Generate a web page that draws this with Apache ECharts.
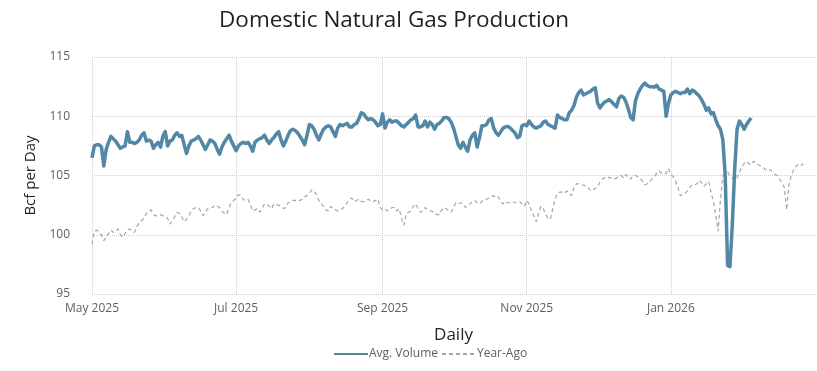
<!DOCTYPE html>
<html>
<head>
<meta charset="utf-8">
<script src="https://cdn.jsdelivr.net/npm/echarts@6/dist/echarts.min.js"></script>
<style>
html,body{margin:0;padding:0;background:#fff;}
#chart{width:817px;height:371px;}
</style>
</head>
<body>
<div id="chart"></div>
<script>
// ---- Data ----
const startDate = '2025-05-01';
const axisDays = 307; // May 1 2025 .. Mar 3 2026
const tickDates = ['2025-05-01','2025-07-01','2025-09-01','2025-11-01','2026-01-01'];
const yTicks = [95, 100, 105, 110, 115];

const avgVolume = [
106.5,107.5,107.6,107.6,107.4,105.8,107.2,107.8,108.3,108.1,
107.9,107.6,107.3,107.4,107.5,108.7,107.8,107.8,107.7,107.8,
108.0,108.4,108.6,107.9,108.0,107.9,107.3,107.6,107.8,107.4,
108.3,108.7,107.5,107.9,108.0,108.4,108.6,108.3,108.4,107.6,
106.85,107.5,107.9,108.0,108.1,108.3,108.0,107.6,107.2,107.6,
108.0,107.9,107.7,107.2,106.8,107.4,107.8,108.1,108.4,107.9,
107.5,107.1,107.5,107.7,107.8,107.7,107.8,107.5,107.05,107.8,
108.0,108.1,108.2,108.4,108.0,107.7,108.0,108.2,108.5,108.7,
108.0,107.5,107.9,108.4,108.8,108.9,108.8,108.6,108.3,108.0,
107.6,108.4,109.3,109.2,108.9,108.4,108.0,108.5,108.9,109.1,
109.2,109.1,108.7,108.3,109.0,109.3,109.2,109.3,109.4,109.1,
109.1,109.3,109.4,109.8,110.3,110.2,109.9,109.7,109.8,109.7,
109.5,109.2,109.3,110.2,109.0,109.5,109.7,109.5,109.6,109.6,
109.4,109.2,109.1,109.3,109.5,109.7,109.8,110.1,109.1,109.1,
109.2,109.6,109.1,109.5,109.3,108.9,109.3,109.4,109.6,109.9,
109.9,109.8,109.5,109.0,108.3,107.6,107.3,107.8,107.4,107.05,
108.0,108.4,108.6,107.4,108.2,109.2,109.2,109.3,109.7,109.8,
109.0,108.6,108.4,108.7,109.0,109.1,109.15,109.0,108.8,108.6,
108.2,108.3,109.2,109.3,109.2,109.6,109.3,109.1,109.0,109.1,
109.2,109.5,109.6,109.3,109.2,109.1,109.0,110.1,109.9,109.8,
109.7,109.7,110.3,110.5,110.9,111.6,112.0,112.2,111.8,111.9,
112.0,112.1,112.3,112.4,111.1,110.7,111.0,111.2,111.3,111.4,
111.2,111.0,110.8,111.5,111.7,111.6,111.2,110.6,109.9,109.7,
111.3,111.9,112.3,112.6,112.8,112.6,112.5,112.5,112.45,112.6,
112.3,112.2,112.1,110.0,111.1,111.8,112.0,112.1,112.0,111.9,
112.0,112.0,112.3,111.9,112.2,112.1,111.9,111.7,111.4,111.0,
110.5,110.7,110.2,110.3,109.7,109.2,108.9,108.0,105.0,97.4,
97.3,100.8,105.5,108.9,109.6,109.3,108.9,109.3,109.6,109.85
];

const yearAgo = [
99.2,100.3,100.4,100.2,100.0,99.5,99.8,100.1,100.4,100.2,
100.3,100.5,100.0,99.8,100.1,100.4,100.5,100.3,100.2,100.7,
101.0,101.2,101.4,101.8,102.0,102.1,101.7,101.6,101.6,101.7,
101.6,101.5,101.4,100.9,101.2,101.5,101.9,101.8,101.5,101.1,
101.3,101.6,102.0,102.2,102.3,102.3,102.0,101.6,101.9,102.2,
102.3,102.3,102.5,102.4,102.3,102.0,101.8,101.7,102.3,102.7,
102.9,103.1,103.4,103.3,103.0,102.9,103.0,102.6,102.0,102.1,
102.2,101.9,102.2,102.6,102.6,102.4,102.2,102.6,102.5,102.5,
102.4,102.2,102.3,102.7,102.8,102.9,102.9,102.8,102.9,103.0,
103.2,103.3,103.5,103.8,103.7,103.4,102.9,102.6,102.4,102.1,
102.0,102.4,102.2,102.1,102.0,102.1,102.2,102.4,102.7,103.0,
103.1,102.8,102.9,103.0,102.8,102.8,102.9,103.0,102.8,102.8,
102.9,103.0,102.3,102.1,102.2,102.0,102.1,102.3,102.3,102.0,
102.2,101.4,100.8,101.8,101.9,102.0,102.4,102.6,102.2,101.9,
102.0,102.3,102.1,102.0,102.0,101.8,101.7,101.7,102.1,102.3,
102.2,102.0,101.9,102.3,102.7,102.6,102.7,102.6,102.3,102.5,
102.6,102.8,102.9,102.7,102.6,102.8,103.0,103.0,103.1,103.2,
103.3,103.1,103.2,102.8,102.6,102.8,102.7,102.7,102.8,102.7,
102.7,102.8,102.6,102.4,102.9,102.6,102.0,101.6,101.1,101.8,
102.4,102.2,101.7,101.4,101.3,102.2,103.0,103.5,103.6,103.6,
103.5,103.7,103.5,103.3,104.0,104.3,104.3,104.2,104.2,104.1,
104.0,103.7,103.8,103.9,104.0,104.5,104.7,104.8,104.9,104.8,
104.8,104.7,104.8,104.9,105.0,104.8,105.1,104.8,104.7,105.0,
105.0,104.9,104.8,104.5,104.2,104.3,104.5,104.7,104.9,105.2,
105.4,105.2,105.1,105.2,105.6,105.1,104.9,104.5,104.0,103.3,
103.4,103.5,103.7,104.0,104.2,104.2,104.3,104.6,104.4,104.1,
104.3,104.5,103.6,102.8,101.7,100.3,103.0,105.0,105.2,105.3,
105.0,104.8,104.6,104.8,105.3,105.7,106.0,106.2,106.0,105.9,
106.2,106.1,105.9,105.8,105.7,105.5,105.4,105.5,105.3,105.1,
105.0,104.7,104.4,104.0,102.1,104.3,105.0,105.5,105.8,105.9,
105.8,106.0
];

// ---- Category dates ----
function pad(n){return n<10?'0'+n:''+n;}
const dates = [];
(function(){
  const d0 = new Date(startDate + 'T00:00:00Z');
  for (let i = 0; i < axisDays; i++) {
    const d = new Date(d0.getTime() + i*86400000);
    dates.push(d.getUTCFullYear()+'-'+pad(d.getUTCMonth()+1)+'-'+pad(d.getUTCDate()));
  }
})();
const monthNames = ['Jan','Feb','Mar','Apr','May','Jun','Jul','Aug','Sep','Oct','Nov','Dec'];
function fmt(v){const p=v.split('-');return monthNames[+p[1]-1]+' '+p[0];}
const isTick = (idx, v) => tickDates.indexOf(v) >= 0;

const FONT = "'Open Sans', 'Noto Sans', sans-serif";
const chart = echarts.init(document.getElementById('chart'), null, {renderer:'canvas'});
chart.setOption({
  animation: false,
  backgroundColor: '#ffffff',
  title: {
    text: 'Domestic Natural Gas Production',
    left: 389, top: 4, textAlign: 'center',
    textStyle: {fontFamily: FONT, fontSize: 22.5, fontWeight: 'normal', color: '#1f1f1f'}
  },
  legend: {
    bottom: 6, left: 328,
    itemWidth: 34, itemHeight: 10, itemGap: 3,
    itemStyle: {opacity: 0},
    textStyle: {fontFamily: FONT, fontSize: 12, color: '#605e5c', padding:[0,0,0,-4]},
    data: ['Avg. Volume', 'Year-Ago']
  },
  grid: {left: 92, right: 2, top: 57, bottom: 77, containLabel: false},
  xAxis: {
    type: 'category',
    data: dates,
    boundaryGap: false,
    name: 'Daily',
    nameLocation: 'middle',
    nameGap: 33,
    nameTextStyle: {fontFamily: FONT, fontSize: 17, color: '#252423'},
    axisLine: {show: false},
    axisTick: {show: false},
    axisLabel: {interval: isTick, formatter: fmt, fontFamily: FONT, fontSize: 12, color: '#605e5c', margin: 9},
    splitLine: {show: true, interval: isTick, lineStyle: {type: 'dotted', color: '#cfcfcf', width: 1}}
  },
  yAxis: {
    type: 'value',
    min: yTicks[0], max: yTicks[yTicks.length-1], interval: 5,
    name: 'Bcf per Day',
    nameLocation: 'middle',
    nameGap: 52,
    nameTextStyle: {fontFamily: FONT, fontSize: 15, color: '#252423'},
    axisLine: {show: false},
    axisTick: {show: false},
    axisLabel: {fontFamily: FONT, fontSize: 12, color: '#605e5c', margin: 22},
    splitLine: {show: true, lineStyle: {type: 'dotted', color: '#cfcfcf', width: 1}}
  },
  series: [
    {
      name: 'Year-Ago', type: 'line', data: yearAgo, symbol: 'none', z: 2,
      lineStyle: {color: '#a6a6a6', width: 1.2, type: [4, 3]},
      itemStyle: {color: '#a6a6a6'}
    },
    {
      name: 'Avg. Volume', type: 'line', data: avgVolume, symbol: 'none', z: 3,
      lineStyle: {color: '#5287a6', width: 3.5, join: 'round'},
      itemStyle: {color: '#5287a6'}
    }
  ]
});
</script>
</body>
</html>
